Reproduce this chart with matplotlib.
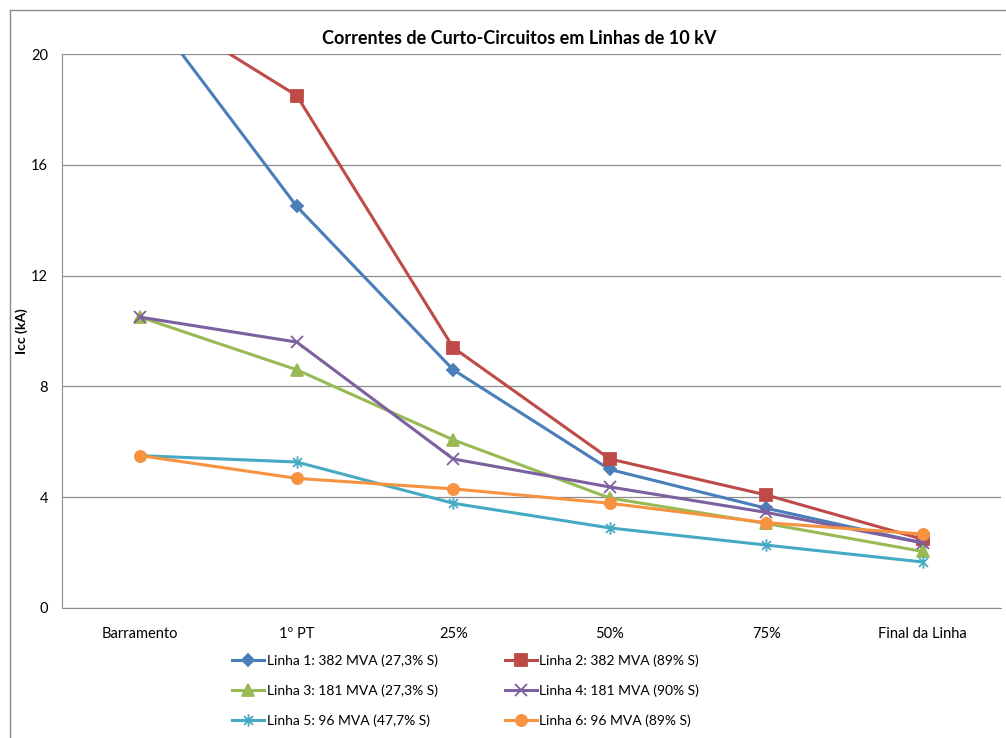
import matplotlib.pyplot as plt
from matplotlib.lines import Line2D
from matplotlib.path import Path

plt.rcParams['font.family'] = ['Lato', 'DejaVu Sans']

# categorias e valores (Icc em kA)
categorias = ['Barramento', '1º PT', '25%', '50%', '75%', 'Final da Linha']
linha1 = [22.0, 14.5, 8.6, 5.0, 3.6, 2.35]
linha2 = [22.0, 18.5, 9.4, 5.38, 4.08, 2.48]
linha3 = [10.5, 8.6, 6.07, 3.97, 3.05, 2.04]
linha4 = [10.5, 9.6, 5.38, 4.37, 3.45, 2.35]
linha5 = [5.5, 5.27, 3.78, 2.89, 2.27, 1.66]
linha6 = [5.5, 4.68, 4.3, 3.78, 3.08, 2.67]
nomes = ['Linha 1: 382 MVA (27,3% S)', 'Linha 2: 382 MVA (89% S)',
         'Linha 3: 181 MVA (27,3% S)', 'Linha 4: 181 MVA (90% S)',
         'Linha 5: 96 MVA (47,7% S)', 'Linha 6: 96 MVA (89% S)']

# asterisco estilo Excel: um x com um traço vertical
asterisco = Path([(-1, -1), (1, 1), (-1, 1), (1, -1), (0, -1.4), (0, 1.4)],
                 [Path.MOVETO, Path.LINETO, Path.MOVETO, Path.LINETO,
                  Path.MOVETO, Path.LINETO])

cores = ['#4A7EBB', '#BE4B48', '#98B954', '#7D60A0', '#46AAC5', '#F69240']
marcadores = ['D', 's', '^', 'x', asterisco, 'o']
tamanhos = [6, 8, 8, 8, 9, 8]

fig = plt.figure(figsize=(10.06, 7.38), dpi=100)
ax = fig.add_axes([0.0616, 0.1762, 0.9334, 0.7506])

x = list(range(len(categorias)))
series = [linha1, linha2, linha3, linha4, linha5, linha6]
handles = []
for s, c, m, ms, nome in zip(series, cores, marcadores, tamanhos, nomes):
    h, = ax.plot(x, s, color=c, lw=2.2, marker=m, markersize=ms,
                 markeredgewidth=1.3, label=nome)
    handles.append(h)

ax.set_xlim(-0.5, len(categorias) - 0.5)
ax.set_ylim(0, 20)
ax.set_yticks([0, 4, 8, 12, 16, 20])
ax.set_xticks(x)
ax.set_xticklabels(categorias)
ax.tick_params(axis='both', length=0, labelsize=10.5, colors='#000000')
ax.tick_params(axis='x', pad=14)
ax.tick_params(axis='y', pad=10)
ax.yaxis.grid(True, color='#8C8C8C', lw=0.9)
ax.set_axisbelow(True)
for lado in ['top', 'right']:
    ax.spines[lado].set_visible(False)
ax.spines['left'].set_color('#8C8C8C')
ax.spines['bottom'].set_color('#8C8C8C')

fig.text(22 / 1006, 1 - 331 / 738, 'Icc (kA)', rotation=90, ha='center',
         va='center', fontsize=10, fontweight='bold')
fig.text(0.516, 0.948, 'Correntes de Curto-Circuitos em Linhas de 10 kV',
         ha='center', va='center', fontsize=13, fontweight='bold')

# ordem da legenda: linhas 1,3,5 na 1a coluna; 2,4,6 na 2a
leg = fig.legend([handles[i] for i in [0, 2, 4, 1, 3, 5]],
                 [nomes[i] for i in [0, 2, 4, 1, 3, 5]],
                 ncol=2, loc='upper center', bbox_to_anchor=(0.463, 0.13),
                 frameon=False, fontsize=10, handlelength=2.3,
                 handletextpad=0.2, columnspacing=4.8, labelspacing=1.25)

# moldura da área do gráfico
fig.add_artist(Line2D([10 / 1006, 10 / 1006], [0, 1 - 10 / 738],
                      color='#8C8C8C', lw=1, transform=fig.transFigure))
fig.add_artist(Line2D([10 / 1006, 1], [1 - 10 / 738, 1 - 10 / 738],
                      color='#8C8C8C', lw=1, transform=fig.transFigure))

fig.savefig('out.png', dpi=100)
